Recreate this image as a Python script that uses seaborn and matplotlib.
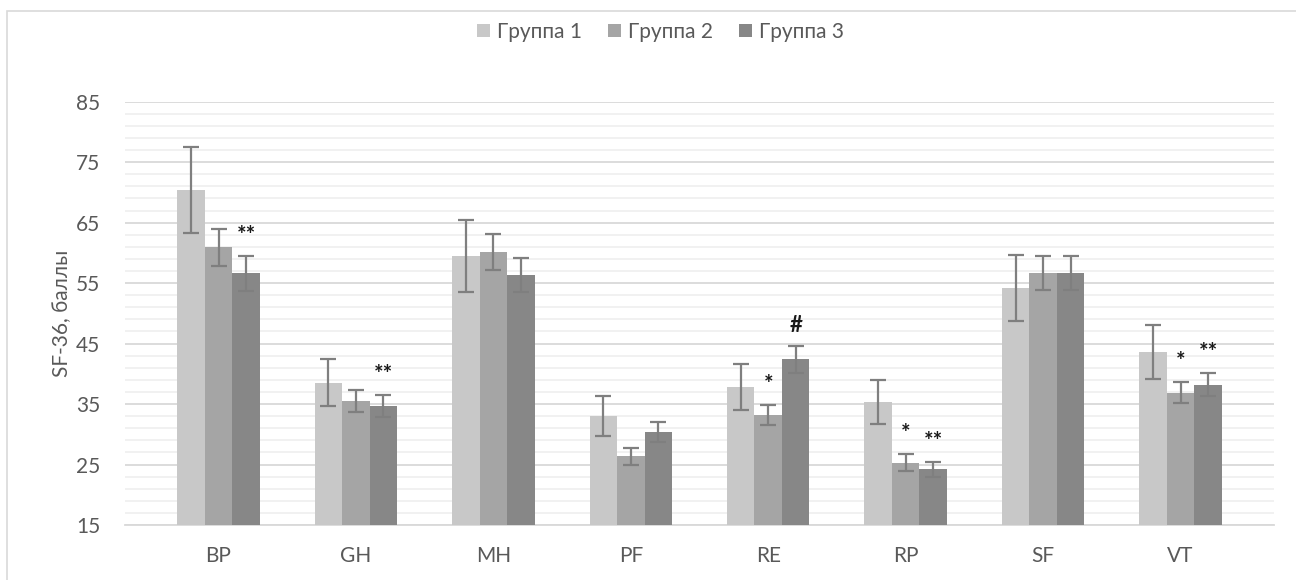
import matplotlib
matplotlib.use("Agg")
import matplotlib.pyplot as plt
import numpy as np
import pandas as pd
import seaborn as sns

# SF-36 domain scores per group (mean and error)
domains = ["BP", "GH", "MH", "PF", "RE", "RP", "SF", "VT"]
groups = ["Группа 1", "Группа 2", "Группа 3"]

group1_mean = [70.4, 38.5, 59.5, 33.0, 37.9, 35.3, 54.2, 43.6]
group2_mean = [60.9, 35.5, 60.2, 26.4, 33.2, 25.3, 56.6, 36.9]
group3_mean = [56.6, 34.7, 56.3, 30.4, 42.4, 24.2, 56.6, 38.2]

group1_err = [7.1, 3.9, 6.0, 3.3, 3.8, 3.6, 5.4, 4.4]
group2_err = [3.0, 1.8, 3.0, 1.4, 1.7, 1.4, 2.8, 1.8]
group3_err = [2.9, 1.8, 2.8, 1.6, 2.2, 1.2, 2.8, 1.9]

# significance marks (group index, domain, symbol)
marks_group = [2, 2, 1, 2, 1, 2, 1, 2]
marks_domain = ["BP", "GH", "RE", "RE", "RP", "RP", "VT", "VT"]
marks_text = ["**", "**", "*", "#", "*", "**", "*", "**"]

y_ticks = [15, 25, 35, 45, 55, 65, 75, 85]
y_label = "SF-36, баллы"

colors = ["#c8c8c8", "#a5a5a5", "#878787"]
text_col = "#595959"

means = [group1_mean, group2_mean, group3_mean]
errs = [group1_err, group2_err, group3_err]

df = pd.DataFrame({
    "domain": np.tile(domains, len(groups)),
    "group": np.repeat(groups, len(domains)),
    "score": np.concatenate(means),
})

sns.set_theme(style="white")
plt.rcParams["font.family"] = ["Lato", "Noto Sans", "DejaVu Sans"]

fig = plt.figure(figsize=(12.96, 5.8), dpi=100)
ax = fig.add_axes([0.0965, 0.0948, 0.8865, 0.7299])

sns.barplot(data=df, x="domain", y="score", hue="group", order=domains,
            hue_order=groups, palette=colors, width=0.6, errorbar=None,
            linewidth=0, saturation=1, ax=ax, zorder=3)

# error bars on each bar, using the bar geometry from seaborn
bar_containers = list(ax.containers)
bar_pos = {}
for gi, cont in enumerate(bar_containers):
    xs = [b.get_x() + b.get_width() / 2 for b in cont]
    hs = [b.get_height() for b in cont]
    ax.errorbar(xs, hs, yerr=errs[gi], fmt="none", ecolor="#7f7f7f",
                elinewidth=1.6, capsize=5.5, capthick=1.6, zorder=4)
    for d, x, h, e in zip(domains, xs, hs, errs[gi]):
        bar_pos[(gi, d)] = (x, h + e)

for gi, d, t in zip(marks_group, marks_domain, marks_text):
    x, top = bar_pos[(gi, d)]
    ax.text(x, top + 3.4, t, ha="center", va="center", fontsize=16,
            fontweight="bold", color="#1a1a1a", zorder=5)

ax.set_ylim(15, 85)
ax.set_yticks(y_ticks)
ax.set_yticks(np.arange(15, 86, 2), minor=True)
ax.grid(axis="y", which="major", color="#d9d9d9", linewidth=1.3, zorder=0)
ax.grid(axis="y", which="minor", color="#f0f0f0", linewidth=1.3, zorder=0)
ax.grid(axis="x", visible=False)
ax.set_axisbelow(True)

for s in ["top", "right", "left"]:
    ax.spines[s].set_visible(False)
ax.spines["bottom"].set_color("#d9d9d9")
ax.spines["bottom"].set_linewidth(1.3)

ax.tick_params(axis="both", which="both", length=0, labelsize=15,
               labelcolor=text_col)
ax.tick_params(axis="y", pad=18)
ax.tick_params(axis="x", pad=15)
ax.set_xlabel("")
ax.set_ylabel(y_label, fontsize=15, color=text_col, labelpad=3)

leg = ax.legend(loc="center", bbox_to_anchor=(0.466, 1.165), ncol=3,
                frameon=False, fontsize=15, handlelength=0.62,
                handleheight=0.62, handletextpad=0.34, columnspacing=1.25)
for t in leg.get_texts():
    t.set_color(text_col)

# chart frame
fig.patches.append(plt.Rectangle((7 / 1296, -0.1), 1.2, 1 - 11 / 580 + 0.1,
                                 transform=fig.transFigure, fill=False,
                                 edgecolor="#d9d9d9", linewidth=1.2))

fig.savefig("out.png", dpi=100)
